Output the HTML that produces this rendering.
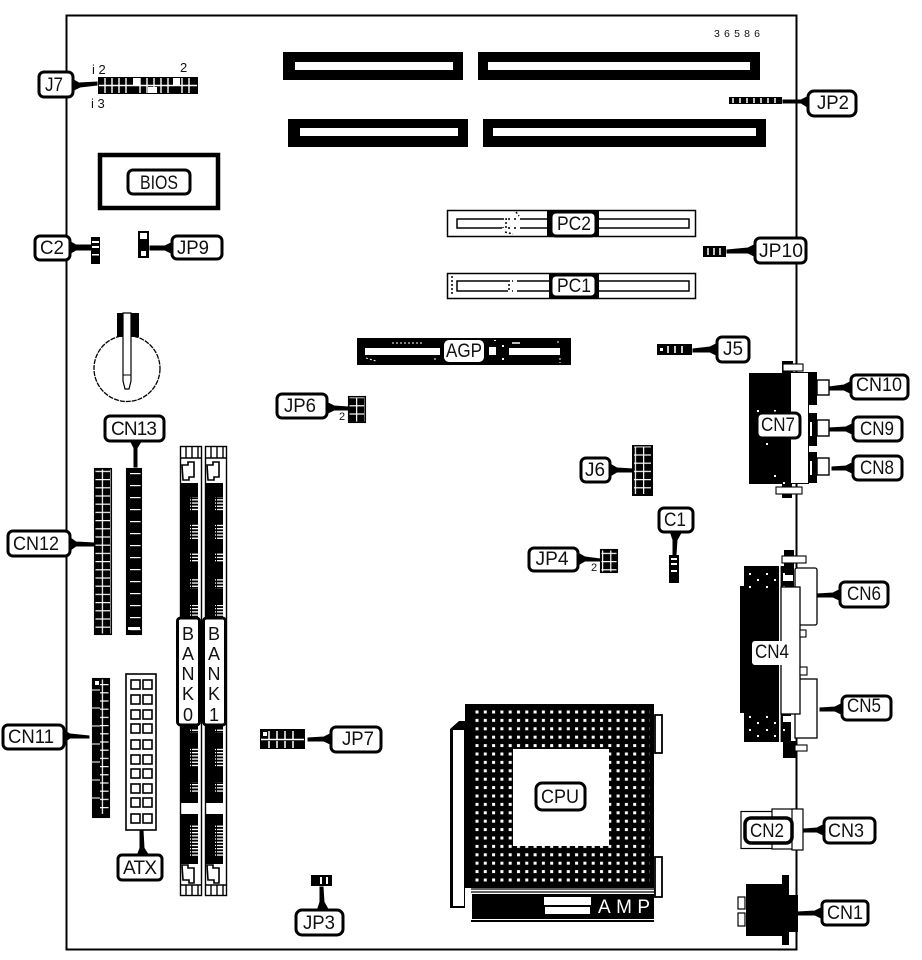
<!DOCTYPE html>
<html><head><meta charset="utf-8"><title>Board</title>
<style>
html,body{margin:0;padding:0;background:#fff;width:922px;height:960px;overflow:hidden}
svg{display:block}
text{font-family:"Liberation Sans",sans-serif;fill:#111}
.l rect{fill:#fff;stroke:#000;stroke-width:3}
.l text{font-size:19px;text-anchor:middle}
.b{fill:#000}.w{fill:#fff}.o{fill:#fff;stroke:#000;stroke-width:1.3}
.t{stroke:#000;stroke-width:2;fill:none}
.n{fill:#000;stroke:#000;stroke-width:1}
</style></head><body>
<svg width="922" height="960" viewBox="0 0 922 960" xmlns="http://www.w3.org/2000/svg">
<defs>
<pattern id="grid" width="8.2" height="8.2" patternUnits="userSpaceOnUse"><rect width="8.2" height="8.2" fill="#000"/><rect x="3.4" width="1.2" height="8.2" fill="#fff"/><rect y="3.4" width="8.2" height="1.2" fill="#fff"/></pattern>
<pattern id="cn13" width="16" height="12" patternUnits="userSpaceOnUse"><rect width="16" height="12" fill="#000"/><rect x="2" y="5" width="12" height="1.2" fill="#fff"/></pattern>
<pattern id="pins" x="473" y="708" width="8.3" height="8.4" patternUnits="userSpaceOnUse"><rect x="2.5" y="2.5" width="3" height="3" fill="#fff"/></pattern>
<pattern id="dash" width="8" height="3.2" patternUnits="userSpaceOnUse"><rect x="0" y="0" width="7" height="1.3" fill="#fff"/></pattern>
<pattern id="speck" width="17" height="13" patternUnits="userSpaceOnUse"><rect x="1" y="1" width="2" height="2" fill="#fff"/><rect x="9" y="7" width="2" height="2" fill="#fff"/></pattern>
</defs>

<!-- board -->
<rect x="66.5" y="15.5" width="730" height="934" fill="#fff" stroke="#000" stroke-width="2"/>
<text x="714" y="37" font-size="10.5" textLength="46" lengthAdjust="spacing">36586</text>

<!-- memory slots -->
<rect class="b" x="283" y="52" width="180" height="28"/><rect class="w" x="295" y="62" width="158" height="8"/>
<rect class="b" x="478" y="52" width="282" height="28"/><rect class="w" x="488" y="62" width="262" height="8"/>
<rect class="b" x="288" y="119" width="180" height="28"/><rect class="w" x="300" y="128" width="158" height="8"/>
<rect class="b" x="483" y="119" width="283" height="28"/><rect class="w" x="493" y="128" width="263" height="8"/>

<!-- J7 -->
<rect class="b" x="98" y="77" width="100" height="17"/>
<path d="M99 85.5H197M105 78v15M112 78v15M119 78v15M126 78v15M140 78v15M147 78v15M154 78v15M161 78v15M168 78v15M182 78v15M189 78v15" stroke="#fff" stroke-width="1.4"/>
<rect class="w" x="133" y="78" width="7" height="7"/><rect class="w" x="148" y="87" width="9" height="6"/><rect class="w" x="173" y="78" width="7" height="8"/>
<text x="92" y="74" font-size="13">i 2</text><text x="180" y="72" font-size="13">2</text><text x="91" y="108" font-size="13">i 3</text>

<!-- BIOS -->
<rect x="100" y="155" width="118" height="53" fill="#fff" stroke="#000" stroke-width="4.5"/>
<g class="l"><rect x="128" y="170" width="62" height="24" rx="5"/><text x="159" y="189" textLength="38" lengthAdjust="spacingAndGlyphs">BIOS</text></g>

<!-- C2 / JP9 conn -->
<rect class="b" x="91" y="237" width="9" height="27"/><rect class="w" x="92" y="241" width="7" height="2"/><rect class="w" x="92" y="246" width="7" height="2"/><rect class="w" x="92" y="254" width="7" height="1.5"/>
<rect class="b" x="138" y="231" width="11" height="27"/><rect class="w" x="140" y="233" width="7" height="6"/><rect class="w" x="141" y="251" width="5" height="5"/>

<!-- battery -->
<circle cx="127" cy="368.5" r="33" fill="#fff" stroke="#000" stroke-width="1.3" stroke-dasharray="5 1"/>
<rect class="b" x="117" y="313" width="22" height="24"/>
<path d="M123 313H131V381L129 389H125L123 381Z" fill="#fff" stroke="#000" stroke-width="1.2"/><path d="M123 375H131" stroke="#000"/>

<!-- PC slots -->
<g>
<rect x="447.5" y="210.5" width="248" height="26" fill="#fff" stroke="#000" stroke-width="1.5"/>
<rect x="457" y="219" width="109" height="9" fill="#fff" stroke="#000" stroke-width="1.5"/><path d="M506 214v20M512 214v20M518 214v20" stroke="#fff" stroke-width="4"/>
<rect x="597" y="219" width="92" height="9" fill="#fff" stroke="#000" stroke-width="1.5"/>
<rect x="451" y="214" width="6" height="20" fill="url(#speck)"/><rect x="502" y="212" width="14" height="22" fill="url(#speck)" opacity=".9"/>
<path d="M507 219h-1v9M516 212l3 4M505 232l8 2" stroke="#000" stroke-width="1.5" fill="none" stroke-dasharray="2 2"/>
<rect class="b" x="547" y="210" width="52" height="27"/>
</g>
<g>
<rect x="447.5" y="273.5" width="248" height="25" fill="#fff" stroke="#000" stroke-width="1.5"/>
<rect x="457" y="281" width="109" height="10" fill="#fff" stroke="#000" stroke-width="1.5"/><path d="M510 276v20M515 276v20" stroke="#fff" stroke-width="4"/>
<rect x="597" y="281" width="92" height="10" fill="#fff" stroke="#000" stroke-width="1.5"/>
<path d="M452 276v20M509 280v12" stroke="#000" stroke-width="1.5" stroke-dasharray="2 2"/>
<rect class="b" x="549" y="273" width="50" height="26"/>
</g>
<!-- AGP -->
<rect class="b" x="357" y="338" width="214" height="27"/>
<rect class="w" x="365" y="348" width="75" height="7"/><rect class="w" x="509" y="348" width="51" height="7"/><rect class="w" x="489" y="347" width="7" height="8"/>
<rect x="490" y="340" width="18" height="22" fill="url(#speck)"/>
<path d="M392 343h32" stroke="#fff" stroke-width="1" stroke-dasharray="2 2"/><path d="M512 343h8" stroke="#fff" stroke-width="1.5"/>
<path d="M366 358l10 3M435 358v4M557 342l4 0M560 358v5" stroke="#fff" stroke-width="1" stroke-dasharray="2 2"/>

<!-- JP2 / JP10 / J5 / J6 / C1 / JP4 / JP6 -->
<rect class="b" x="729" y="97" width="53" height="7"/><path d="M733 98v5M740 98v5M747 98v5M754 98v5M761 98v5M768 98v5M775 98v5" stroke="#fff" stroke-width="1.5"/>
<rect class="b" x="703" y="246" width="23" height="11"/><path d="M708 248v7M714 248v7M720 248v7" stroke="#fff" stroke-width="1.5"/>
<rect class="b" x="657" y="344" width="35" height="11"/><rect class="w" x="660" y="348" width="3" height="3"/><path d="M668 346v7M675 346v7M682 346v7" stroke="#fff" stroke-width="1.6"/>
<rect x="633" y="445" width="19" height="51" fill="url(#grid)"/><rect class="b" x="632" y="445" width="21" height="1.5"/><rect class="b" x="632" y="494" width="21" height="2"/><rect class="b" x="632" y="445" width="2" height="51"/><rect class="b" x="651" y="445" width="2" height="51"/>
<rect class="b" x="669" y="555" width="10" height="28"/><rect class="w" x="671" y="558" width="6" height="2"/><rect class="w" x="671" y="563" width="6" height="2"/><rect class="w" x="671" y="570" width="6" height="2"/>
<rect x="600" y="549" width="18" height="24" fill="url(#grid)"/><rect x="600.7" y="549.7" width="16.6" height="22.6" fill="none" stroke="#000" stroke-width="1.5"/>
<text x="591" y="571" font-size="11">2</text>
<rect x="348" y="396" width="18" height="27" fill="url(#grid)"/><rect x="348.7" y="396.7" width="16.6" height="25.6" fill="none" stroke="#000" stroke-width="1.5"/>
<text x="339" y="420" font-size="11">2</text>
<!-- JP7 conn -->
<rect class="b" x="260" y="729" width="45" height="20"/>
<path d="M261 739.5H304M269 731v8M277 731v8M285 731v8M293 731v8M269 741v7M277 741v7M285 741v7M293 741v7" stroke="#fff" stroke-width="1.5"/>
<rect class="w" x="263" y="732" width="4" height="4"/>
<!-- JP3 conn -->
<rect class="b" x="311" y="875" width="21" height="11"/><rect class="w" x="320" y="877" width="2" height="7"/><rect class="w" x="326" y="877" width="2" height="7"/>

<!-- CN12/13/11/ATX -->
<rect x="94" y="468" width="18" height="167" fill="url(#grid)"/><rect x="94.7" y="468.7" width="16.6" height="165.6" fill="none" stroke="#000" stroke-width="1.5"/>
<rect x="126" y="468" width="16" height="167" fill="url(#cn13)"/><rect x="126.7" y="468.7" width="14.6" height="165.6" fill="none" stroke="#000" stroke-width="1.5"/><rect class="w" x="128" y="627" width="12" height="3"/>
<rect x="92" y="678" width="18" height="140" fill="url(#grid)"/><rect class="b" x="92" y="678" width="8" height="140"/><rect class="w" x="95" y="681" width="4" height="4"/><rect class="b" x="92" y="814" width="18" height="4"/><rect x="92.7" y="678.7" width="16.6" height="138.6" fill="none" stroke="#000" stroke-width="1.5"/>
<path d="M92 690h8M92 708h8M92 726h8M92 744h8M92 762h8M92 780h8M92 798h8" stroke="#fff" stroke-width="1"/>
<rect x="126" y="674" width="30" height="156" fill="#fff" stroke="#000" stroke-width="1.6"/>
<g fill="none" stroke="#000" stroke-width="1.6">
<rect x="131" y="680" width="9" height="9"/><rect x="143" y="680" width="9" height="9"/>
<rect x="131" y="695" width="9" height="9"/><rect x="143" y="695" width="9" height="9"/>
<rect x="131" y="710" width="9" height="9"/><rect x="143" y="710" width="9" height="9"/>
<rect x="131" y="724" width="9" height="9"/><rect x="143" y="724" width="9" height="9"/>
<rect x="131" y="740" width="9" height="9"/><rect x="143" y="740" width="9" height="9"/>
<rect x="131" y="755" width="9" height="9"/><rect x="143" y="755" width="9" height="9"/>
<rect x="131" y="769" width="9" height="9"/><rect x="143" y="769" width="9" height="9"/>
<rect x="131" y="784" width="9" height="9"/><rect x="143" y="784" width="9" height="9"/>
<rect x="131" y="798" width="9" height="9"/><rect x="143" y="798" width="9" height="9"/>
<rect x="131" y="814" width="9" height="9"/><rect x="143" y="814" width="9" height="9"/>
</g>

<!-- DIMM 0 -->
<g id="d0">
<rect x="180.5" y="446.5" width="21" height="449" fill="#fff" stroke="#000" stroke-width="1.4"/>
<path d="M186 447v11M192 447v11M198 447v11M181 458h20" stroke="#000" stroke-width="1.4" fill="none"/>
<path d="M182 465h6v-3h6v15h-5v3h-6z" fill="#fff" stroke="#000" stroke-width="1.6"/>
<rect class="b" x="181" y="483" width="17" height="320"/>
<rect class="b" x="181" y="814" width="17" height="50"/>
<path d="M182 865h6v3h6v15h-5v-3h-6z" fill="#fff" stroke="#000" stroke-width="1.6"/>
<path d="M186 885v10M192 885v10M198 885v10M181 885h20" stroke="#000" stroke-width="1.4" fill="none"/>
<rect x="190" y="497" width="8" height="14" fill="url(#dash)"/><rect x="190" y="523" width="8" height="17" fill="url(#dash)"/><rect x="190" y="553" width="8" height="10" fill="url(#dash)"/><rect x="190" y="579" width="8" height="10" fill="url(#dash)"/><rect x="190" y="605" width="8" height="13" fill="url(#dash)"/>
<rect x="190" y="728" width="8" height="5" fill="url(#dash)"/><rect x="190" y="748" width="8" height="20" fill="url(#dash)"/><rect x="190" y="782" width="8" height="11" fill="url(#dash)"/><rect x="190" y="825" width="8" height="32" fill="url(#dash)"/>
</g>
<use href="#d0" x="25"/>

<!-- CPU -->
<path d="M450 729L459 721H465V908H450Z" fill="#000"/>
<rect class="w" x="453" y="730" width="11" height="176"/>
<rect class="b" x="465" y="704" width="189" height="184"/>
<rect x="473" y="708" width="143" height="178" fill="url(#pins)"/>
<rect x="616" y="708" width="34" height="178" fill="url(#pins)"/>
<rect class="w" x="513" y="749" width="96" height="97"/>
<rect x="655" y="715" width="7" height="38" fill="#fff" stroke="#000" stroke-width="1.8"/>
<rect x="655" y="857" width="7" height="40" fill="#fff" stroke="#000" stroke-width="1.8"/>
<path d="M471 889H655M471 892H655" stroke="#000" stroke-width="1.2"/>
<rect class="b" x="472" y="894" width="182" height="25"/>
<rect class="w" x="544" y="897" width="47" height="8"/><rect class="w" x="545" y="907" width="45" height="7"/>
<text x="598" y="913" font-size="19" style="fill:#fff" textLength="52" lengthAdjust="spacing">AMP</text>
<rect class="b" x="471" y="920" width="183" height="2"/>

<!-- CN7 group -->
<rect class="b" x="749" y="373" width="42" height="111"/>
<rect x="768" y="373" width="18" height="3" fill="url(#speck)"/><rect x="757" y="406" width="32" height="6" fill="url(#speck)"/><rect x="755" y="441" width="22" height="6" fill="url(#speck)"/><rect x="772" y="475" width="18" height="9" fill="url(#speck)"/>
<rect x="782" y="361" width="11" height="12" fill="#000"/><rect x="783" y="364" width="20" height="7" fill="#fff" stroke="#000" stroke-width="1.1"/>
<rect x="782" y="484" width="10" height="14" fill="#000"/><rect x="776" y="487" width="26" height="7" fill="#fff" stroke="#000" stroke-width="1.1"/>
<rect x="790.5" y="372.5" width="18" height="111" fill="#fff" stroke="#000" stroke-width="1"/>
<rect class="b" x="808" y="372" width="9" height="33"/><rect class="b" x="808" y="413" width="9" height="33"/><rect class="b" x="808" y="452" width="9" height="31"/>
<rect class="w" x="810" y="422" width="2" height="14"/><rect class="w" x="810" y="461" width="2" height="14"/>
<rect x="817" y="380" width="12" height="15" fill="#fff" stroke="#000" stroke-width="1.4"/>
<rect x="817" y="420" width="12" height="16" fill="#fff" stroke="#000" stroke-width="1.4"/>
<rect x="817" y="458" width="12" height="17" fill="#fff" stroke="#000" stroke-width="1.4"/>

<!-- CN4 group -->
<rect x="784" y="550" width="10" height="38" fill="#000"/><rect x="782" y="556" width="24" height="7" fill="#fff" stroke="#000" stroke-width="1.1"/>
<rect class="b" x="744" y="566" width="47" height="176"/>
<rect class="b" x="740" y="586" width="40" height="127"/>
<rect x="745" y="568" width="44" height="22" fill="url(#speck)"/><rect x="745" y="714" width="44" height="26" fill="url(#speck)"/>
<rect class="w" x="779" y="566" width="1.6" height="176"/>
<rect class="w" x="783" y="575" width="10" height="6"/><rect class="w" x="783" y="716" width="10" height="6"/>
<rect x="795" y="568" width="22" height="57" rx="2" fill="#fff" stroke="#000" stroke-width="1.3"/>
<rect x="795" y="679" width="22" height="59" fill="#fff" stroke="#000" stroke-width="1.3"/>
<rect x="781" y="587" width="19" height="127" fill="#fff" stroke="#000" stroke-width="1.3"/>
<rect x="800" y="630" width="6" height="7" fill="#fff" stroke="#000" stroke-width="1.1"/><rect x="800" y="667" width="7" height="8" fill="#fff" stroke="#000" stroke-width="1.1"/>
<rect class="b" x="783" y="741" width="13" height="17"/><rect x="795" y="745" width="12" height="6" fill="#fff" stroke="#000" stroke-width="1.1"/>

<!-- CN2/3 -->
<rect x="741" y="811.5" width="50" height="37" fill="#fff" stroke="#000" stroke-width="1.2"/>
<rect x="772" y="809" width="22" height="40" fill="#fff" stroke="#000" stroke-width="1.2"/>
<rect x="792" y="809" width="11" height="41" fill="#fff" stroke="#000" stroke-width="1.2"/>

<!-- CN1 -->
<rect x="738" y="897" width="7" height="12" fill="#fff" stroke="#000" stroke-width="1.2"/><rect x="738" y="913" width="7" height="13" fill="#fff" stroke="#000" stroke-width="1.2"/>
<path d="M746 884H782V875H789V895H798V932H789V945H782V936H746Z" fill="#000"/>

<!-- leaders -->
<g class="n">
<path d="M72 79L79 83L97 82V85L80 87L72 91Z"/>
<path d="M69 241L76 245L91 245V250L76 250L69 254Z"/>
<path d="M173 242L165 246L150 246V250L165 250L173 254Z"/>
<path d="M326 402L334 406L348 407V410L334 410L326 414Z"/>
<path d="M130 440L134 448L134 467H137L137 448L142 440Z"/>
<path d="M69 537L76 542L94 543V546L76 546L69 551Z"/>
<path d="M63 730L70 734L89 736V738L70 738L63 743Z"/>
<path d="M137 856L140 848L140 830H143L144 848L149 856Z"/>
<path d="M332 733L324 737L308 738V741L324 741L332 745Z"/>
<path d="M317 911L320 902L320 887H323L324 902L329 911Z"/>
<path d="M809 96L801 100L783 100V103L801 103L809 108Z"/>
<path d="M756 244L748 248L727 250V253L748 253L756 257Z"/>
<path d="M718 343L710 347L693 349V352L710 352L718 356Z"/>
<path d="M610 464L617 468L633 469V472L617 472L610 476Z"/>
<path d="M670 531L673 540L673 555H676L677 540L682 531Z"/>
<path d="M578 553L585 557L600 559V561L585 561L578 565Z"/>
<path d="M852 381L844 385L829 387V390L844 390L852 394Z"/>
<path d="M854 423L846 427L829 428V431L846 431L854 435Z"/>
<path d="M854 462L846 466L832 467V470L846 470L854 474Z"/>
<path d="M841 589L833 593L817 594V597L833 597L841 601Z"/>
<path d="M843 703L835 707L820 708V711L835 711L843 715Z"/>
<path d="M825 824L817 828L804 829V832L817 832L825 836Z"/>
<path d="M823 907L815 911L798 912V915L815 915L823 919Z"/>
</g>

<!-- labels -->
<g class="l">
<rect x="39" y="72" width="34" height="25" rx="5"/><text x="54" y="91" textLength="18" lengthAdjust="spacingAndGlyphs">J7</text>
<rect x="35" y="236" width="35" height="24" rx="5"/><text x="52" y="254" textLength="24" lengthAdjust="spacingAndGlyphs">C2</text>
<rect x="172" y="236" width="50" height="23" rx="5"/><text x="193" y="254" textLength="32" lengthAdjust="spacingAndGlyphs">JP9</text>
<rect x="277" y="394" width="50" height="24" rx="5"/><text x="300" y="412" textLength="32" lengthAdjust="spacingAndGlyphs">JP6</text>
<rect x="105" y="416" width="59" height="25" rx="5"/><text x="134" y="435" textLength="46" lengthAdjust="spacing">CN13</text>
<rect x="8" y="531" width="62" height="25" rx="5"/><text x="36" y="550" textLength="46" lengthAdjust="spacingAndGlyphs">CN12</text>
<rect x="3" y="725" width="61" height="24" rx="5"/><text x="31" y="743" textLength="46" lengthAdjust="spacingAndGlyphs">CN11</text>
<rect x="118" y="855" width="44" height="25" rx="4"/><text x="140" y="874" textLength="34" lengthAdjust="spacing">ATX</text>
<rect x="331" y="727" width="50" height="25" rx="5"/><text x="358" y="745" textLength="32" lengthAdjust="spacingAndGlyphs">JP7</text>
<rect x="296" y="910" width="47" height="25" rx="6"/><text x="319" y="929" textLength="32" lengthAdjust="spacingAndGlyphs">JP3</text>
<rect x="551" y="212" width="45" height="24" rx="5"/><text x="574" y="230" textLength="34" lengthAdjust="spacingAndGlyphs">PC2</text>
<rect x="551" y="275" width="45" height="22" rx="5"/><text x="574" y="292" textLength="34" lengthAdjust="spacingAndGlyphs">PC1</text>
<rect x="444" y="340" width="40" height="22" rx="5" style="stroke:none"/><text x="464" y="357" textLength="36" lengthAdjust="spacingAndGlyphs">AGP</text>
<rect x="755" y="238" width="51" height="25" rx="5"/><text x="781" y="257" textLength="44" lengthAdjust="spacingAndGlyphs">JP10</text>
<rect x="808" y="91" width="48" height="25" rx="6"/><text x="833" y="109" textLength="32" lengthAdjust="spacingAndGlyphs">JP2</text>
<rect x="717" y="337" width="32" height="25" rx="5"/><text x="733" y="355" textLength="20" lengthAdjust="spacingAndGlyphs">J5</text>
<rect x="581" y="458" width="29" height="24" rx="5"/><text x="595" y="476" textLength="20" lengthAdjust="spacingAndGlyphs">J6</text>
<rect x="659" y="508" width="34" height="24" rx="5"/><text x="675" y="526" textLength="22" lengthAdjust="spacingAndGlyphs">C1</text>
<rect x="529" y="548" width="49" height="23" rx="5"/><text x="552" y="565" textLength="33" lengthAdjust="spacingAndGlyphs">JP4</text>
<rect x="536" y="783" width="49" height="27" rx="6"/><text x="560" y="803" textLength="38" lengthAdjust="spacingAndGlyphs">CPU</text>
<rect x="757" y="413" width="43" height="25" rx="5"/><text x="778" y="431" textLength="34" lengthAdjust="spacingAndGlyphs">CN7</text>
<rect x="851" y="375" width="57" height="24" rx="5"/><text x="879" y="391" textLength="46" lengthAdjust="spacingAndGlyphs">CN10</text>
<rect x="853" y="417" width="49" height="24" rx="5"/><text x="877" y="435" textLength="34" lengthAdjust="spacingAndGlyphs">CN9</text>
<rect x="853" y="456" width="49" height="24" rx="5"/><text x="877" y="474" textLength="34" lengthAdjust="spacingAndGlyphs">CN8</text>
<rect x="752" y="641" width="43" height="24" rx="3" style="stroke:none"/><text x="772" y="658" textLength="34" lengthAdjust="spacingAndGlyphs">CN4</text>
<rect x="840" y="582" width="48" height="25" rx="5"/><text x="864" y="600" textLength="34" lengthAdjust="spacingAndGlyphs">CN6</text>
<rect x="842" y="696" width="49" height="24" rx="5"/><text x="864" y="712" textLength="34" lengthAdjust="spacingAndGlyphs">CN5</text>
<rect x="745" y="818" width="47" height="25" rx="6" style="stroke-width:3.5"/><text x="767" y="837" textLength="34" lengthAdjust="spacingAndGlyphs">CN2</text>
<rect x="824" y="818" width="51" height="25" rx="5"/><text x="846" y="837" textLength="36" lengthAdjust="spacingAndGlyphs">CN3</text>
<rect x="822" y="901" width="46" height="24" rx="4"/><text x="845" y="919" textLength="36" lengthAdjust="spacingAndGlyphs">CN1</text>
<!-- BANK labels -->
<rect x="177.5" y="618" width="22" height="107" rx="3"/>
<rect x="203.5" y="618" width="22" height="107" rx="3"/>
</g>
<g font-size="18" text-anchor="middle">
<text x="188" y="640">B</text><text x="188" y="660">A</text><text x="188" y="680">N</text><text x="188" y="700">K</text><text x="188" y="721">0</text>
<text x="214" y="640">B</text><text x="214" y="660">A</text><text x="214" y="680">N</text><text x="214" y="700">K</text><text x="214" y="721">1</text>
</g>
</svg>
</body></html>
